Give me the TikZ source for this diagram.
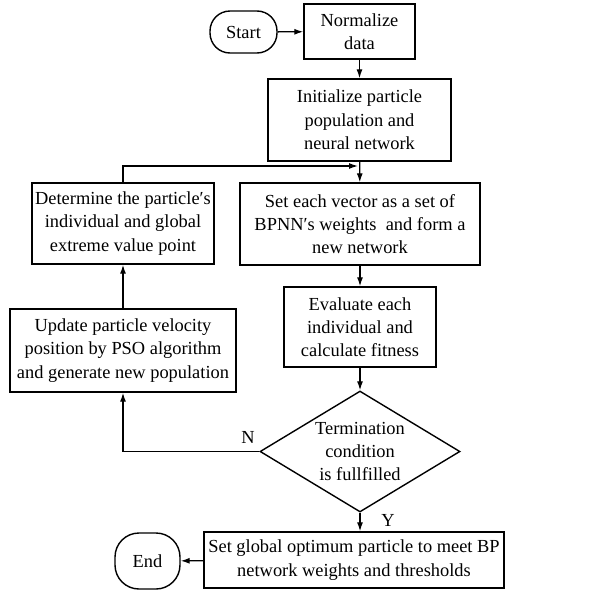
\documentclass[tikz,border=0pt]{standalone}
\usepackage{fontspec}
\setmainfont{Liberation Serif}
\usetikzlibrary{shapes.geometric,arrows.meta}
\begin{document}
\begin{tikzpicture}[x=1pt,y=-1pt,
  every node/.style={font=\fontsize{18.4}{23.3}\selectfont, align=center, inner sep=0pt},
  box/.style={draw, line width=1.4pt, rectangle},
  term/.style={draw, line width=1.4pt, rectangle, rounded corners=20pt},
  dec/.style={draw, line width=1.4pt, diamond, aspect=1.65},
  arr/.style={line width=1.3pt, -{Latex[length=9pt,width=6pt]}},
  lbl/.style={font=\fontsize{18.4}{22}\selectfont}]
\useasboundingbox (0,0) rectangle (605,592);
\node[term, minimum width=67pt, minimum height=42pt] (start) at (243.5,32) {Start};
\node[box, minimum width=111pt, minimum height=55pt] (norm) at (359.5,31.5) {Normalize\\data};
\node[box, minimum width=183pt, minimum height=82pt] (init) at (359.5,120) {Initialize particle\\population and\\neural network};
\node[box, minimum width=240pt, minimum height=82pt] (setv) at (360,224) {Set each vector as a set of\\BPNN′s weights\ \ and form a\\new network};
\node[box, minimum width=182pt, minimum height=81pt] (det) at (123,223.5) {Determine the particle′s\\individual and global\\extreme value point};
\node[box, minimum width=152pt, minimum height=80pt] (eval) at (360,327) {Evaluate each\\individual and\\calculate fitness};
\node[box, minimum width=226pt, minimum height=83pt] (upd) at (123,350.5) {Update particle velocity\\position by PSO algorithm\\and generate new population};
\node[dec, minimum width=200pt, minimum height=121pt] (cond) at (360,451.5) {Termination\\condition\\is fullfilled};
\node[box, minimum width=300pt, minimum height=56pt] (fin) at (354,560) {Set global optimum particle to meet BP\\network weights and thresholds};
\node[term, rounded corners=24pt, minimum width=65pt, minimum height=56pt] (endn) at (147.5,561) {End};
\coordinate (loopend) at (358,166);
\node[lbl] (nlab) at (248,437) {N};
\node[lbl] (ylab) at (388,520) {Y};
\draw[arr] (start) -- (norm);
\draw[arr] (norm) -- (init);
\draw[arr] (init) -- (setv);
\draw[arr] (det.north) |- (loopend);
\draw[arr] (setv) -- (eval);
\draw[arr] (eval) -- (cond);
\draw[arr] (cond.west) -| (upd.south);
\draw[arr] (upd) -- (det);
\draw[arr] (cond.south) -- (cond.south |- fin.north);
\draw[arr] (fin) -- (endn);
\end{tikzpicture}
\end{document}
